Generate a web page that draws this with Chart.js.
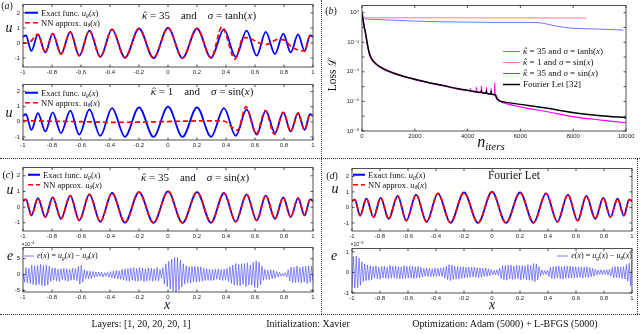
<!DOCTYPE html>
<html><head><meta charset="utf-8">
<script src="https://cdn.jsdelivr.net/npm/chart.js@4.4.1/dist/chart.umd.min.js"></script>
<style>
html,body{margin:0;padding:0;background:#fff;}
#root{position:relative;width:640px;height:334px;overflow:hidden;background:#fff;font-family:"Liberation Serif","DejaVu Serif",serif;color:#111;}
canvas{position:absolute;}
.t{position:absolute;white-space:nowrap;line-height:1;}
.leg{position:absolute;white-space:nowrap;line-height:1;display:flex;align-items:center;transform:translateY(-50%);}
.leg svg{margin-right:3px;}
sub{font-size:68%;vertical-align:-0.28em;line-height:0;}
.gap{display:inline-block;width:11px;}
.kh{position:relative;display:inline-block;}
.hat{position:absolute;left:0.14em;top:-0.02em;font-style:normal;}
.dh{position:absolute;height:0;border-top:1px dotted #333;}
.dv{position:absolute;width:0;border-left:1px dotted #333;}
</style></head>
<body><div id="root"></div>
<script>
// ---------------- data ----------------
const xTicks = [-1, -0.8, -0.6, -0.4, -0.2, 0, 0.2, 0.4, 0.6, 0.8, 1];
const uTicks = [-1, 0, 1, 2];
const errCTicks = [-5, 0, 5];
const errDTicks = [-1, 0, 1];
const lossXTicks = [0, 2000, 4000, 6000, 8000, 10000];
const lossYTicks = [1e-8, 1e-6, 1e-4, 1e-2, 1];
const lossYLabels = ['10\u207B\u2078', '10\u207B\u2076', '10\u207B\u2074', '10\u207B\u00B2', '10\u2070'];
const lossDecades = [1e-8, 1e-7, 1e-6, 1e-5, 1e-4, 1e-3, 1e-2, 1e-1, 1];

// exact function u_g(x): extrema
const waveX = [-1, -0.98, -0.942, -0.897, -0.846, -0.795, -0.738, -0.674, -0.612, -0.542, -0.467, -0.386, -0.297, -0.2, -0.1, 0, 0.1, 0.2, 0.297, 0.386, 0.467, 0.542, 0.612, 0.674, 0.738, 0.795, 0.846, 0.897, 0.942, 0.98, 1];
const exactU = [0.4, 0.5, -0.53, 0.57, -0.63, 0.62, -0.74, 0.74, -0.85, 0.82, -0.93, 0.9, -0.99, 0.96, -1, 1, -1, 0.96, -0.99, 0.9, -0.93, 0.82, -0.85, 0.74, -0.74, 0.62, -0.63, 0.57, -0.53, 0.5, 0.4];

// NN approx, kappa=35, tanh
const nnTanhX = [-1, -0.965, -0.897, -0.846, -0.795, -0.738, -0.674, -0.612, -0.542, -0.467, -0.386, -0.297, -0.2, -0.1, 0, 0.1, 0.2, 0.297, 0.372, 0.462, 0.52, 0.56, 0.63, 0.68, 0.76, 0.8, 0.85, 0.9, 0.942, 0.98, 1];
const nnTanhU = [0, -0.02, 0.57, -0.63, 0.62, -0.74, 0.74, -0.85, 0.82, -0.93, 0.9, -0.99, 0.96, -1, 1, -1, 0.96, -0.99, 1.07, -1.07, 0.36, 0.32, 0.0, -0.1, 0.24, 0.2, -0.25, -0.48, -0.55, 0.5, 0.4];

// NN approx, kappa=1, sin
const nnSinK1X = [-1, -0.8, -0.6, -0.4, -0.2, 0, 0.2, 0.35, 0.4, 0.44, 0.48, 0.538, 0.609, 0.672, 0.733, 0.795, 0.846, 0.897, 0.942, 0.98, 1];
const nnSinK1U = [0.08, 0.04, 0.01, -0.03, -0.02, 0.02, 0.06, 0.07, 0.0, -0.35, -0.55, 1.0, -0.78, 0.74, -0.83, 0.62, -0.63, 0.57, -0.53, 0.5, 0.4];

// NN approx, kappa=35, sin  and  Fourier Let (match the exact curve)
const nnSinK35X = waveX;
const nnSinK35U = exactU;
const nnFourierX = waveX;
const nnFourierU = exactU;

// error e(x), panel (c), units of 1e-4 (evenly spaced over x in [-1,1])
const errC = [0.5, -2.4, 2.2, -2.6, 2.0,
  -2.8, 3.0, -3.2, 2.7, -3.4, 2.9, -3.1, 3.2, -3.5, 2.8, -3.6, 3.0, -3.3, 2.6,
  -2.2, 2.0, -1.8, 2.1, -2.0, 1.7, -2.2, 1.9, -1.6, 2.0, -1.9, 1.8, -2.1, 1.6, -1.8, 2.0, -1.7, 1.9, -2.0,
  2.6, -3.0, 2.9, -2.4,
  1.5, -1.3, 1.2, -1.4, 1.1, -1.2, 1.0, -0.9, 0.8,
  -0.7, 0.8, -0.6, 0.7, -0.8, 0.6, -0.5, 0.7, -0.8, 0.9, -1.0, 1.1,
  -1.2, 1.3, -1.4, 1.2, -1.5, 1.6, -1.7, 1.8,
  -2.0, 1.9, -2.1, 2.0, -1.8, 2.2, -2.0, 1.9, -2.1, 2.2, -1.9, 2.0, -2.2, 1.8, -2.0, 2.1, -1.9, 2.0, -2.1, 1.8, -1.9, 2.2, -2.0, 1.6, -1.2,
  2.2, -3.0, 3.4, -3.8, 4.2, -4.6, 4.9, -5.2, 5.4, -5.5, 5.3, -5.0, 4.5, -3.9, 3.4, -3.0, 2.8,
  -2.6, 2.4, -2.7, 2.5, -2.3, 2.6, -2.4, 2.5, -2.2, 2.4, -2.1, 2.0, -1.9, 1.8,
  -1.8, 1.7, -1.9, 1.6, -1.8, 1.7, -1.5, 1.8, -1.7, 1.6, -1.9, 1.7, -1.8, 2.0, -2.2, 2.5, -2.8,
  3.0, -3.3, 3.5, -3.4, 3.2, -3.6, 3.4, -3.1, 3.5, -3.8, 3.6, -3.3, 3.0, -3.4, 3.8, -4.1, 4.3, -4.2, 3.9, -3.3, 2.6,
  -1.8, 1.6, -1.5, 1.4, -1.6, 1.5, -1.3, 1.4, -1.2, 1.0, -0.8, 0.7,
  -0.5, 0.4, -0.5, 0.6, -0.8,
  1.5, -2.0, 2.4, -2.6, 2.3, -2.5, 2.7, -2.4, 2.2, -2.6, 2.5, -2.3, 2.6, -2.8, 2.7, -2.5, 2.6, -2.0];

// error e(x), panel (d), units of 1e-3 (evenly spaced over x in [-1,1])
const errD = [-0.72, 0.78, -0.75, 0.8, -0.74, 0.7, -0.62, 0.52,
  -0.45, 0.42, -0.4, 0.36, -0.38, 0.33, -0.35, 0.3,
  -0.28, 0.32, -0.3, 0.26, -0.33, 0.3, -0.27, 0.31, -0.29, 0.25, -0.3, 0.34, -0.28, 0.3, -0.26, 0.32, -0.3, 0.28, -0.31, 0.27, -0.3, 0.33, -0.29, 0.3, -0.28,
  0.3, -0.27, 0.31, -0.3, 0.28, -0.26, 0.29, -0.27, 0.25, -0.22,
  0.2, -0.18, 0.22, -0.2, 0.19, -0.21, 0.18, -0.2, 0.22, -0.19, 0.2, -0.18, 0.21, -0.2, 0.24,
  -0.28, 0.3, -0.34, 0.38, -0.4, 0.36, -0.33, 0.3, -0.32, 0.29, -0.31, 0.28, -0.3, 0.27, -0.26,
  0.25, -0.24, 0.26, -0.23, 0.25, -0.22, 0.26, -0.24, 0.23, -0.25, 0.22, -0.24, 0.21, -0.2, 0.22, -0.19, 0.18, -0.16, 0.14, -0.12,
  0.1, -0.12, 0.13, -0.15, 0.2,
  -0.3, 0.33, -0.36, 0.34, -0.38, 0.35, -0.32, 0.36, -0.34, 0.3, -0.33, 0.35, -0.31, 0.34, -0.36, 0.33, -0.3, 0.32, -0.35, 0.38, -0.36, 0.34, -0.4, 0.44, -0.45, 0.42, -0.36, 0.28, -0.18,
  0.12, -0.1, 0.09, -0.1, 0.12,
  -0.2, 0.26, -0.3, 0.28, -0.31, 0.3, -0.27, 0.32, -0.3, 0.28, -0.32, 0.3, -0.29, 0.31, -0.28, 0.3, -0.27, 0.29, -0.26, 0.28,
  -0.25, 0.27, -0.24, 0.26, -0.28, 0.25, -0.23, 0.27, -0.25, 0.24, -0.22, 0.2, -0.18, 0.15, -0.13,
  0.12, -0.1, 0.13, -0.11, 0.12, -0.1, 0.14, -0.12, 0.15, -0.18,
  0.24, -0.27, 0.28, -0.25, 0.29, -0.27, 0.26, -0.3, 0.28, -0.32,
  0.38, -0.42, 0.45, -0.65, 0.6];

// loss histories, panel (b)
const lossTanhIt = [0, 20, 50, 100, 300, 1000, 2000, 3000, 4000, 5000, 6000, 6700, 7000, 7300, 7600, 8000, 8500, 9000, 9500, 9900];
const lossTanhV = [1.4, 0.9, 0.45, 0.38, 0.36, 0.32, 0.27, 0.24, 0.23, 0.22, 0.22, 0.21, 0.17, 0.13, 0.105, 0.088, 0.082, 0.077, 0.071, 0.066];
const lossK1It = [0, 10, 30, 1000, 3000, 5000, 7000, 8500];
const lossK1V = [0.5, 0.46, 0.45, 0.45, 0.45, 0.44, 0.44, 0.43];
const lossSinIt = [0, 60, 130, 200, 270, 350, 500, 800, 1200, 1600, 2000, 2600, 3100, 3600, 4000, 4098, 4106, 4114, 4327, 4335, 4343, 4517, 4525, 4533, 4706, 4714, 4722, 4885, 4893, 4901, 5022, 5030, 5038, 5110, 5184, 5373, 6008, 7022, 8035, 9049, 10000];
const lossSinV = [1.0, 0.2, 0.04, 0.007, 0.0018, 7.5e-4, 3.6e-4, 1.5e-4, 7.8e-5, 4.7e-5, 3e-5, 1.7e-5, 1.1e-5, 7e-6, 5.4e-6, 5e-6, 7.4e-6, 5e-6, 4.4e-6, 8.8e-6, 4.4e-6, 3.9e-6, 1.07e-5, 3.9e-6, 3.5e-6, 8.8e-6, 3.5e-6, 3.1e-6, 7.4e-6, 3.1e-6, 2.8e-6, 1.78e-5, 2.8e-6, 1.8e-6, 1.2e-6, 8e-7, 4.3e-7, 2e-7, 9.1e-8, 5.5e-8, 3.6e-8];
const lossFourierIt = [0, 76, 140, 203, 266, 342, 494, 811, 1191, 1571, 2040, 2585, 3092, 3599, 4144, 4520, 4525, 4530, 4709, 4714, 4719, 4888, 4893, 4898, 4993, 5065, 5120, 5373, 6008, 7022, 8035, 9049, 10000];
const lossFourierV = [0.83, 0.135, 0.037, 0.0079, 0.0022, 9.1e-4, 4e-4, 1.66e-4, 8.3e-5, 5e-5, 3e-5, 1.78e-5, 1.18e-5, 7.4e-6, 5.1e-6, 4.1e-6, 5.6e-6, 4.1e-6, 3.6e-6, 5.2e-6, 3.6e-6, 3.2e-6, 4.8e-6, 3.2e-6, 2.95e-6, 2.6e-6, 1.4e-6, 9.3e-7, 6.3e-7, 3.4e-7, 1.7e-7, 1.07e-7, 7.9e-8];

// ---------------- rendering ----------------
const root = document.getElementById('root');
const SANS = '"Liberation Sans","DejaVu Sans",Arial,sans-serif';
const tickFont = {family: SANS, size: 6};
const PAD = {l: 28, r: 14, t: 6, b: 14};
const pts = (xs, ys) => xs.map((x, i) => ({x: x, y: ys[i]}));
const fmtX = v => String(Math.round(v * 10) / 10);
const fmtInt = v => String(Math.round(v));

const boxPlugin = {
  id: 'mbox',
  afterDatasetsDraw(chart, args, o) {
    const ctx = chart.ctx, a = chart.chartArea;
    const xs = chart.scales.x, ys = chart.scales.y;
    ctx.save();
    ctx.strokeStyle = '#262626';
    ctx.lineWidth = 0.8;
    ctx.strokeRect(a.left, a.top, a.right - a.left, a.bottom - a.top);
    const L = 2.5;
    ctx.beginPath();
    xs.ticks.forEach(t => {
      const p = xs.getPixelForValue(t.value);
      ctx.moveTo(p, a.bottom); ctx.lineTo(p, a.bottom - L);
      ctx.moveTo(p, a.top); ctx.lineTo(p, a.top + L);
    });
    const yv = (o && o.yTicks) ? o.yTicks : ys.ticks.map(t => t.value);
    yv.forEach(v => {
      const p = ys.getPixelForValue(v);
      ctx.moveTo(a.left, p); ctx.lineTo(a.left + L, p);
      ctx.moveTo(a.right, p); ctx.lineTo(a.right - L, p);
    });
    ctx.stroke();
    ctx.restore();
  }
};
Chart.register(boxPlugin);

function makeCanvas(box) {
  const c = document.createElement('canvas');
  const w = box.W + PAD.l + PAD.r, h = box.H + PAD.t + PAD.b;
  c.width = w; c.height = h;
  c.style.left = (box.L - PAD.l) + 'px';
  c.style.top = (box.T - PAD.t) + 'px';
  c.style.width = w + 'px'; c.style.height = h + 'px';
  root.appendChild(c);
  return c;
}

function axis(pos, type, min, max, ticks, fmt) {
  return {
    type: type, position: pos, min: min, max: max,
    grid: {display: false, drawTicks: false},
    border: {display: false},
    afterBuildTicks: s => { s.ticks = ticks.map(v => ({value: v})); },
    afterFit: s => { if (pos === 'bottom') s.height = PAD.b; else s.width = PAD.l; },
    ticks: {font: tickFont, color: '#262626', padding: pos === 'bottom' ? 2 : 3, autoSkip: false, maxRotation: 0, minRotation: 0, callback: fmt}
  };
}

function common(scales, pluginOpts) {
  return {
    responsive: false, animation: false, events: [],
    layout: {padding: {left: 0, right: PAD.r, top: PAD.t, bottom: 0}},
    plugins: {legend: {display: false}, tooltip: {enabled: false}, mbox: pluginOpts || {}},
    elements: {point: {radius: 0}, line: {cubicInterpolationMode: 'monotone', borderCapStyle: 'butt', fill: false}},
    scales: scales
  };
}

function waveChart(box, yMin, yMax, exX, exY, nnX, nnY) {
  new Chart(makeCanvas(box), {
    type: 'line',
    data: {datasets: [
      {data: pts(nnX, nnY), borderColor: '#ff0000', borderWidth: 1.7, borderDash: [5, 3], order: 0},
      {data: pts(exX, exY), borderColor: '#0000ff', borderWidth: 1.8, order: 1}
    ]},
    options: common({
      x: axis('bottom', 'linear', -1, 1, xTicks, fmtX),
      y: axis('left', 'linear', yMin, yMax, uTicks, fmtInt)
    })
  });
}

function errChart(box, yMin, yMax, yT, vals) {
  new Chart(makeCanvas(box), {
    type: 'line',
    data: {labels: vals.map((_, i) => i), datasets: [
      {data: vals, xAxisID: 'xc', yAxisID: 'y', borderColor: 'rgba(80,80,255,0.85)', borderWidth: 0.8, tension: 0, cubicInterpolationMode: 'default'}
    ]},
    options: common({
      xc: {type: 'category', display: false, offset: false},
      x: axis('bottom', 'linear', -1, 1, xTicks, fmtX),
      y: axis('left', 'linear', yMin, yMax, yT, fmtInt)
    })
  });
}

// panel (a)
waveChart({L: 23, T: 4, W: 290, H: 63}, -1.6, 2.55, waveX, exactU, nnTanhX, nnTanhU);
waveChart({L: 23, T: 84, W: 290, H: 56}, -1.2, 2.46, waveX, exactU, nnSinK1X, nnSinK1U);
// panel (c)
waveChart({L: 23, T: 167, W: 290, H: 64}, -1.52, 2.52, waveX, exactU, nnSinK35X, nnSinK35U);
errChart({L: 23, T: 247, W: 290, H: 45}, -5.5, 8.5, errCTicks, errC);
// panel (d)
waveChart({L: 352, T: 168, W: 280, H: 63}, -1.52, 2.5, waveX, exactU, nnFourierX, nnFourierU);
errChart({L: 352, T: 248, W: 280, H: 45}, -1, 1.16, errDTicks, errD);

// panel (b)
new Chart(makeCanvas({L: 362, T: 5, W: 264, H: 126}), {
  type: 'line',
  data: {datasets: [
    {data: pts(lossFourierIt, lossFourierV), borderColor: '#000000', borderWidth: 1.5, order: 0},
    {data: pts(lossSinIt, lossSinV), borderColor: '#ff00ff', borderWidth: 1.2, order: 1},
    {data: pts(lossTanhIt, lossTanhV), borderColor: '#7373ff', borderWidth: 1.0, order: 2},
    {data: pts(lossK1It, lossK1V), borderColor: '#ff8080', borderWidth: 1.0, order: 3}
  ]},
  options: common({
    x: axis('bottom', 'linear', 0, 10000, lossXTicks, v => String(v)),
    y: axis('left', 'logarithmic', 1e-8, 3, lossYTicks, (v, i) => lossYLabels[i])
  }, {yTicks: lossDecades})
});

// ---------------- text & decorations ----------------
function txt(html, x, y, css, tf) {
  const d = document.createElement('div');
  d.className = 't';
  d.innerHTML = html;
  d.style.left = x + 'px'; d.style.top = y + 'px';
  d.style.transform = tf || 'translate(-50%,-50%)';
  if (css) d.style.cssText += css;
  root.appendChild(d);
  return d;
}
function sample(color, dash, len, w) {
  return '<svg width="' + len + '" height="4"><line x1="0" y1="2" x2="' + len + '" y2="2" stroke="' + color + '" stroke-width="' + w + '"' + (dash ? ' stroke-dasharray="' + dash + '"' : '') + '/></svg>';
}
function leg(x, y, color, dash, len, w, html, fs, right) {
  const d = document.createElement('div');
  d.className = 'leg';
  d.innerHTML = sample(color, dash, len, w) + '<span>' + html + '</span>';
  d.style.top = y + 'px';
  if (right !== undefined) d.style.right = right + 'px'; else d.style.left = x + 'px';
  d.style.fontSize = fs + 'px';
  root.appendChild(d);
}
const KH = '<span class="kh"><i>\u03BA</i><span class="hat">\u02C6</span></span>';
const UG = '<i>u</i><sub><i>g</i></sub>(<i>x</i>)';
const UT = '<i>u</i><sub><i>\u03B8</i></sub>(<i>x</i>)';

// separators
function dh(x, y, w) { const d = document.createElement('div'); d.className = 'dh'; d.style.left = x + 'px'; d.style.top = y + 'px'; d.style.width = w + 'px'; root.appendChild(d); }
function dv(x, y, h) { const d = document.createElement('div'); d.className = 'dv'; d.style.left = x + 'px'; d.style.top = y + 'px'; d.style.height = h + 'px'; root.appendChild(d); }
dh(0, 158, 640); dh(0, 314, 640); dv(321, 0, 314); dv(637, 158, 156);

// panel letters
txt('(<i>a</i>)', 7, 6, 'font-size:10px;');
txt('(<i>b</i>)', 331, 11, 'font-size:10px;');
txt('(<i>c</i>)', 8, 175, 'font-size:10px;');
txt('(<i>d</i>)', 332, 176, 'font-size:10px;');

// titles
txt(KH + ' = 35<span class="gap"></span>and<span class="gap"></span><i>\u03C3</i> = tanh(<i>x</i>)', 199, 15, 'font-size:11px;');
txt(KH + ' = 1<span class="gap"></span>and<span class="gap"></span><i>\u03C3</i> = sin(<i>x</i>)', 202, 91, 'font-size:11px;');
txt(KH + ' = 35<span class="gap"></span>and<span class="gap"></span><i>\u03C3</i> = sin(<i>x</i>)', 195, 177, 'font-size:11px;');
txt('Fourier Let', 514, 176, 'font-size:11.5px;');

// axis labels
txt('<i>u</i>', 9, 28, 'font-size:14px;');
txt('<i>u</i>', 9, 113, 'font-size:14px;');
txt('<i>u</i>', 10, 190, 'font-size:14px;');
txt('<i>e</i>', 10, 256, 'font-size:14px;');
txt('<i>x</i>', 167, 305, 'font-size:14px;');
txt('<i>u</i>', 335, 189, 'font-size:14px;');
txt('<i>e</i>', 334, 256, 'font-size:14px;');
txt('<i>x</i>', 492, 305, 'font-size:14px;');
txt('<i>n</i><sub><i>iters</i></sub>', 491, 142, 'font-size:16px;');
txt('Loss \u2112', 333, 74, 'font-size:11.5px;', 'translate(-50%,-50%) rotate(-90deg)');
txt('\u00D710<sup style="font-size:80%">\u22124</sup>', 28, 244, 'font-size:5px;font-family:' + SANS + ';');
txt('\u00D710<sup style="font-size:80%">\u22123</sup>', 357, 244, 'font-size:5px;font-family:' + SANS + ';');

// legends
leg(25, 13, '#0000ff', null, 13, 1.8, 'Exact func. ' + UG, 8.5);
leg(25, 23, '#ff0000', '5 3', 13, 1.7, 'NN approx. ' + UT, 8.5);
leg(25, 93, '#0000ff', null, 13, 1.8, 'Exact func. ' + UG, 8.5);
leg(25, 103, '#ff0000', '5 3', 13, 1.7, 'NN approx. ' + UT, 8.5);
leg(28, 175, '#0000ff', null, 12, 1.8, 'Exact func. ' + UG, 8.5);
leg(28, 185, '#ff0000', '5 3', 12, 1.7, 'NN approx. ' + UT, 8.5);
leg(353, 175, '#0000ff', null, 12, 1.8, 'Exact func. ' + UG, 8.5);
leg(353, 185, '#ff0000', '5 3', 12, 1.7, 'NN approx. ' + UT, 8.5);
leg(24, 256, 'rgba(80,80,255,0.85)', null, 10, 0.9, '<i>e</i>(<i>x</i>) = ' + UG + ' \u2212 ' + UT, 8);
leg(0, 256, 'rgba(80,80,255,0.85)', null, 11, 0.9, '<i>e</i>(<i>x</i>) = ' + UG + ' \u2212 ' + UT, 8, 8);

leg(503, 51, '#7373ff', null, 17, 1.0, KH + ' = 35 and <i>\u03C3</i> = tanh(<i>x</i>)', 9);
leg(503, 62, '#ff8080', null, 17, 1.0, KH + ' = 1 and <i>\u03C3</i> = sin(<i>x</i>)', 9);
leg(503, 73, '#ff00ff', null, 17, 1.2, KH + ' = 35 and <i>\u03C3</i> = sin(<i>x</i>)', 9);
leg(503, 84, '#000000', null, 17, 1.5, 'Fourier Let [32]', 9);

// caption
txt('Layers: [1, 20, 20, 20, 1]', 141, 324, 'font-size:10px;');
txt('Initialization: Xavier', 308, 324, 'font-size:10px;');
txt('Optimization: Adam (5000) + L-BFGS (5000)', 505, 324, 'font-size:10px;');
</script>
</body></html>
